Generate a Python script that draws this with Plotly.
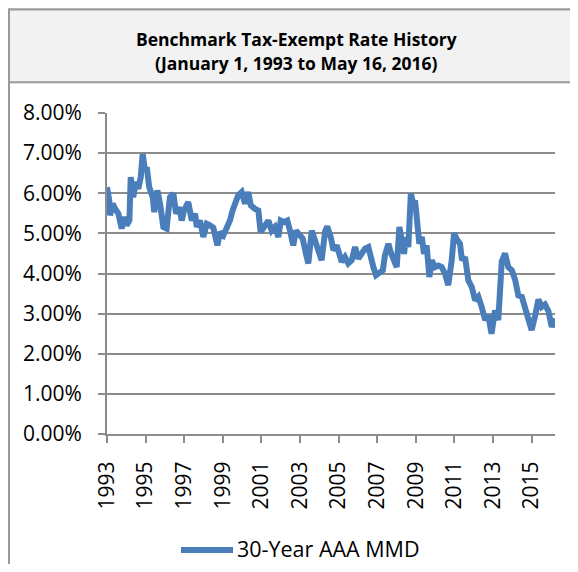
import datetime as dt
import plotly.graph_objects as go

# ---- data ----
decimal_years = [
    1993.00, 1993.12, 1993.16, 1993.30, 1993.41, 1993.59, 1993.76, 1993.88,
    1994.02, 1994.16, 1994.23, 1994.36, 1994.50, 1994.62, 1994.75, 1994.85, 1994.97,
    1995.06, 1995.19, 1995.37, 1995.45, 1995.61, 1995.75, 1995.92,
    1996.09, 1996.26, 1996.44, 1996.58, 1996.75, 1996.87, 1996.99,
    1997.21, 1997.39, 1997.56, 1997.65, 1997.82, 1997.99,
    1998.17, 1998.34, 1998.51, 1998.72, 1998.86,
    1999.03, 1999.20, 1999.37, 1999.51, 1999.68, 1999.80, 1999.98,
    2000.15, 2000.32, 2000.45, 2000.67, 2000.84, 2000.96,
    2001.19, 2001.36, 2001.53, 2001.70, 2001.88,
    2002.00, 2002.17, 2002.34, 2002.48, 2002.65, 2002.79, 2002.96,
    2003.14, 2003.31, 2003.43, 2003.61, 2003.78, 2003.95,
    2004.12, 2004.30, 2004.41, 2004.59, 2004.73, 2004.90,
    2005.04, 2005.16, 2005.33, 2005.50, 2005.68, 2005.85,
    2006.02, 2006.20, 2006.37, 2006.54, 2006.66, 2006.80, 2006.94,
    2007.11, 2007.29, 2007.40, 2007.58, 2007.70, 2007.87,
    2008.01, 2008.15, 2008.27, 2008.39, 2008.49, 2008.61, 2008.74, 2008.87, 2008.96,
    2009.05, 2009.18, 2009.31, 2009.42, 2009.56, 2009.70, 2009.82,
    2010.00, 2010.17, 2010.34, 2010.51, 2010.68, 2010.86, 2010.98,
    2011.13, 2011.29, 2011.39, 2011.55, 2011.72, 2011.90,
    2012.07, 2012.24, 2012.41, 2012.59, 2012.76, 2012.92,
    2013.10, 2013.27, 2013.45, 2013.62, 2013.79, 2013.97,
    2014.14, 2014.31, 2014.49, 2014.66, 2014.83,
    2015.00, 2015.18, 2015.35, 2015.52, 2015.69, 2015.87,
    2016.04, 2016.21,
]
mmd_30yr_pct = [
    6.15, 5.82, 5.45, 5.74, 5.62, 5.49, 5.12, 5.41,
    5.20, 5.32, 6.40, 5.90, 6.28, 6.11, 6.40, 6.98, 6.57,
    6.65, 6.15, 5.90, 5.53, 6.07, 5.74, 5.16,
    5.12, 5.90, 5.99, 5.49, 5.65, 5.32, 5.57,
    5.78, 5.32, 5.49, 5.16, 5.32, 4.91,
    5.24, 5.20, 5.14, 4.70, 5.03,
    4.95, 5.12, 5.32, 5.57, 5.86, 5.95, 6.03,
    5.74, 6.03, 5.70, 5.61, 5.57, 5.03,
    5.24, 5.32, 5.07, 5.16, 4.91,
    5.32, 5.28, 5.32, 5.07, 4.70, 5.07, 4.95,
    4.87, 4.49, 4.25, 5.07, 4.83, 4.66,
    4.33, 5.05, 5.17, 4.91, 4.58, 4.70,
    4.53, 4.29, 4.41, 4.25, 4.33, 4.66,
    4.37, 4.49, 4.62, 4.66, 4.33, 4.16, 3.96,
    4.04, 4.08, 4.45, 4.74, 4.53, 4.33,
    4.16, 5.16, 4.74, 4.49, 4.91, 4.66, 5.99, 5.74, 5.82,
    5.16, 4.74, 4.91, 4.49, 4.70, 3.91, 4.33,
    4.16, 4.20, 4.16, 4.00, 3.71, 4.33, 5.00,
    4.85, 4.74, 4.33, 4.41, 3.83, 3.66,
    3.33, 3.42, 3.17, 2.84, 2.95, 2.50,
    3.08, 2.84, 4.30, 4.50, 4.16, 4.08,
    3.85, 3.45, 3.42, 3.17, 2.88,
    2.59, 2.95, 3.35, 3.17, 3.23, 3.06,
    2.67, 2.88,
]
series_name = "30-Year AAA MMD"
tick_years = [1993, 1995, 1997, 1999, 2001, 2003, 2005, 2007, 2009, 2011, 2013, 2015]
y_ticks = [0, 1, 2, 3, 4, 5, 6, 7, 8]
title_lines = ["Benchmark Tax-Exempt Rate History", "(January 1, 1993 to May 16, 2016)"]


def to_date(y):
    year = int(y)
    start = dt.datetime(year, 1, 1)
    end = dt.datetime(year + 1, 1, 1)
    return start + (end - start) * (y - year)


dates = [to_date(y) for y in decimal_years]

# ---- layout geometry (reference-window pixels; page body has an 8px margin) ----
OFF = 8
W, H = 570, 556
PL, PR, PT, PB = 107, 555, 112.7, 434
pw, ph = PR - PL, PB - PT


def px(x):
    return (x - PL) / pw


def py(y):
    return (PB - y) / ph


GRID = "#8c8c8c"
FONT = "'Open Sans', sans-serif"
BLUE = "#4a7ebb"

fig = go.Figure()
fig.add_trace(go.Scatter(
    x=dates, y=mmd_30yr_pct, mode="lines", name=series_name,
    line=dict(color=BLUE, width=6), showlegend=False,
))

fig.update_layout(
    width=W, height=H,
    margin=dict(l=PL - OFF, r=W - (PR - OFF), t=PT - OFF, b=H - (PB - OFF), pad=0),
    paper_bgcolor="white", plot_bgcolor="white",
    font=dict(family=FONT, color="black", size=21),
    showlegend=False,
    xaxis=dict(
        type="date", range=[to_date(1993.0), to_date(2016.21)],
        tickmode="array",
        tickvals=[dt.datetime(y, 1, 1) for y in tick_years],
        ticktext=[str(y) for y in tick_years],
        tickangle=-90, ticks="outside", ticklen=7, tickwidth=2, tickcolor=GRID,
        showline=True, linecolor=GRID, linewidth=2, showgrid=False, zeroline=False,
        tickfont=dict(size=21, family=FONT), ticklabelstandoff=10, automargin=False,
    ),
    yaxis=dict(
        range=[0, 8], tickmode="array", tickvals=y_ticks,
        ticktext=[f"{v:.2f}%" for v in y_ticks],
        ticks="outside", ticklen=7, tickwidth=2, tickcolor=GRID,
        showline=True, linecolor=GRID, linewidth=2,
        showgrid=True, gridcolor=GRID, gridwidth=2, zeroline=False,
        tickfont=dict(size=21, family=FONT), ticklabelstandoff=12, automargin=False,
    ),
    shapes=[
        dict(type="rect", xref="paper", yref="paper", layer="below",
             x0=px(9), x1=px(600), y0=py(600), y1=py(9),
             line=dict(color="#9a9a9a", width=2), fillcolor="rgba(0,0,0,0)"),
        dict(type="rect", xref="paper", yref="paper", layer="below",
             x0=px(9), x1=px(600), y0=py(82), y1=py(9),
             line=dict(color="#9a9a9a", width=2), fillcolor="#f2f2f2"),
        # legend key
        dict(type="line", xref="paper", yref="paper",
             x0=px(181), x1=px(233), y0=py(550), y1=py(550),
             line=dict(color=BLUE, width=6)),
    ],
    annotations=[
        dict(xref="paper", yref="paper", x=px(296), y=py(38.5),
             xanchor="center", yanchor="middle", showarrow=False,
             text="<b>" + title_lines[0] + "</b>",
             font=dict(size=17.5, family=FONT, color="black")),
        dict(xref="paper", yref="paper", x=px(296), y=py(63),
             xanchor="center", yanchor="middle", showarrow=False,
             text="<b>" + title_lines[1] + "</b>",
             font=dict(size=17.5, family=FONT, color="black")),
        dict(xref="paper", yref="paper", x=px(235), y=py(549),
             xanchor="left", yanchor="middle", showarrow=False,
             text=series_name, font=dict(size=21.5, family=FONT, color="black")),
    ],
)

fig.write_html("out.html")
